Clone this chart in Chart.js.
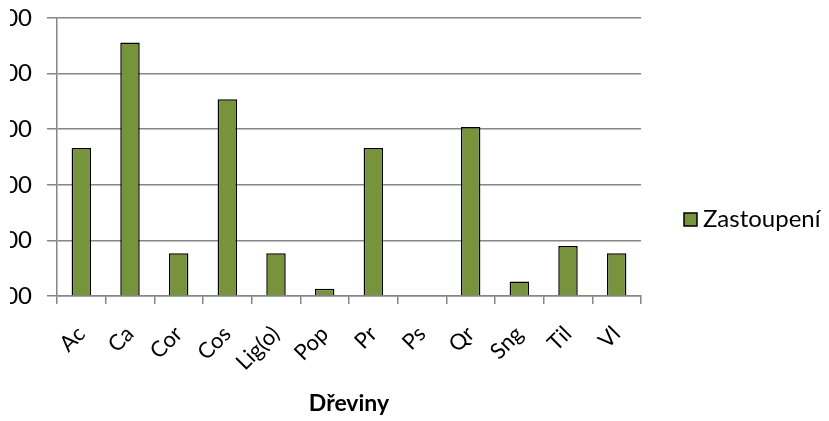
<!DOCTYPE html>
<html>
<head>
<meta charset="utf-8">
<script src="https://cdn.jsdelivr.net/npm/chart.js@4"></script>
<style>
  html, body { margin: 0; padding: 0; background: #fff; overflow: hidden; }
  #clip { position: absolute; left: 10px; top: 0; width: 819px; height: 421px; overflow: hidden; }
  #wrap { position: absolute; left: -50px; top: 0; width: 869px; height: 421px; }
</style>
</head>
<body>
<div id="clip"><div id="wrap"><canvas id="chart"></canvas></div></div>
<script>
const categories = ['Ac', 'Ca', 'Cor', 'Cos', 'Lig(o)', 'Pop', 'Pr', 'Ps', 'Qr', 'Sng', 'Til', 'Vl'];
const zastoupeni = [2.66, 4.56, 0.77, 3.54, 0.77, 0.13, 2.66, 0, 3.04, 0.26, 0.9, 0.77];
const yTicks = [0, 1, 2, 3, 4, 5];

const FONT = 'Lato, "Open Sans", sans-serif';
const GRID = '#868686';
const BAR = '#77933C';
const SHIFT = 40; // canvas starts left of the window, so the y labels get cut

// legend drawn by hand at the Excel position
const legendPlugin = {
    id: 'sideLegend',
    afterDraw(chart) {
        const ctx = chart.ctx;
        const x = 684 + SHIFT, y = 213;
        ctx.save();
        ctx.fillStyle = BAR;
        ctx.fillRect(x, y, 13, 13);
        ctx.strokeStyle = '#000';
        ctx.lineWidth = 1.5;
        ctx.strokeRect(x, y, 13, 13);
        ctx.fillStyle = '#000';
        ctx.font = '24px ' + FONT;
        ctx.textBaseline = 'alphabetic';
        ctx.fillText('Zastoupení', x + 19, 227);
        ctx.restore();
    }
};

// no extra padding from the label overflow, the plot box is fixed by layout.padding
function noPad(s) {
    s.paddingTop = 0; s.paddingBottom = 0; s.paddingLeft = 0; s.paddingRight = 0;
}

new Chart(document.getElementById('chart'), {
    type: 'bar',
    data: {
        labels: categories,
        datasets: [{
            label: 'Zastoupení',
            data: zastoupeni,
            backgroundColor: BAR,
            borderColor: '#000',
            borderWidth: 1.5,
            categoryPercentage: 1,
            barPercentage: 0.4
        }]
    },
    options: {
        responsive: true,
        maintainAspectRatio: false,
        animation: false,
        layout: { padding: { top: 18, right: 188, left: 0, bottom: 0 } },
        plugins: {
            legend: { display: false },
            tooltip: { enabled: false }
        },
        scales: {
            x: {
                offset: true,
                grid: { drawOnChartArea: false, drawTicks: true, tickLength: 8, color: GRID, lineWidth: 1.5, offset: true },
                border: { color: GRID, width: 1.5 },
                ticks: {
                    color: '#000',
                    font: { family: FONT, size: 22 },
                    minRotation: 45,
                    maxRotation: 45,
                    autoSkip: false,
                    padding: 17
                },
                title: {
                    display: true,
                    text: 'Dřeviny',
                    color: '#000',
                    font: { family: FONT, size: 23, weight: 'bold' },
                    padding: { top: 0, bottom: 4 }
                },
                afterFit: s => { s.height = 421 - 296; noPad(s); }
            },
            y: {
                min: 0,
                max: 5,
                afterBuildTicks: s => { s.ticks = yTicks.map(v => ({ value: v })); },
                grid: { color: GRID, lineWidth: 1.5, tickLength: 10 },
                border: { color: GRID, width: 1.5 },
                ticks: {
                    color: '#000',
                    font: { family: FONT, size: 24 },
                    padding: 15,
                    callback: v => v.toFixed(2).replace('.', ',')
                },
                afterFit: s => { s.width = 57 + SHIFT; noPad(s); }
            }
        }
    },
    plugins: [legendPlugin]
});
</script>
</body>
</html>
